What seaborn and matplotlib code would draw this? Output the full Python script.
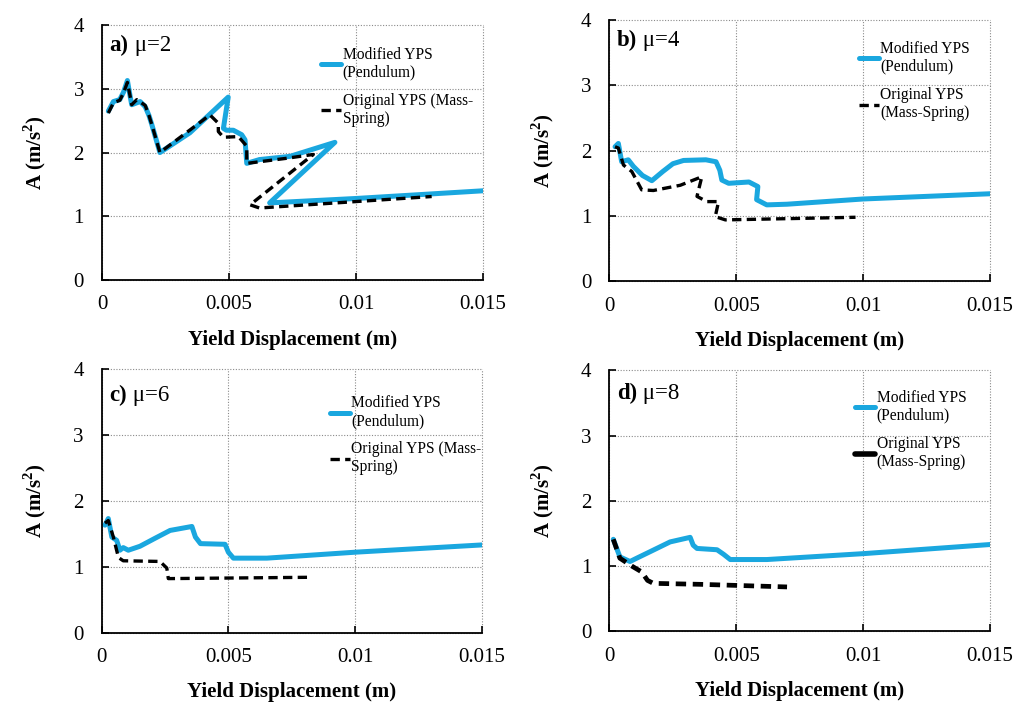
import numpy as np
import pandas as pd
import matplotlib
matplotlib.use("Agg")
import matplotlib.pyplot as plt
import seaborn as sns

# ---------------- data ----------------
panel_titles = ["a)", "b)", "c)", "d)"]
panel_mu = ["\u03bc=2", "\u03bc=4", "\u03bc=6", "\u03bc=8"]
series_names = ["Modified YPS\n(Pendulum)", "Original YPS"]
legend_orig = ["Original YPS (Mass-\nSpring)", "Original YPS\n(Mass-Spring)",
               "Original YPS (Mass-\nSpring)", "Original YPS\n(Mass-Spring)"]
x_ticks = [0, 0.005, 0.01, 0.015]
x_ticklabels = ["0", "0.005", "0.01", "0.015"]
y_ticks = [0, 1, 2, 3, 4]
y_ticklabels = ["0", "1", "2", "3", "4"]

# panel a (mu=2)
a_mod_x = [0.00025, 0.00045, 0.0007, 0.00085, 0.001, 0.0011, 0.00117, 0.0015, 0.0017, 0.00185,
           0.00196, 0.00228, 0.00346, 0.00497, 0.00478, 0.0049, 0.00517, 0.0055, 0.00563, 0.0057,
           0.0062, 0.0074, 0.00917, 0.0066, 0.01003, 0.015]
a_mod_y = [2.65, 2.80, 2.83, 2.95, 3.13, 2.90, 2.75, 2.80, 2.72, 2.58,
           2.44, 2.0, 2.31, 2.87, 2.38, 2.35, 2.35, 2.28, 2.20, 1.83,
           1.89, 1.94, 2.16, 1.21, 1.28, 1.40]
a_orig_x = [0.00025, 0.00045, 0.0007, 0.00085, 0.001, 0.0011, 0.00117, 0.00137, 0.0017, 0.00185,
            0.00196, 0.00228, 0.00425, 0.00458, 0.00458, 0.00478, 0.00537, 0.0057, 0.0057,
            0.00727, 0.00832, 0.00583, 0.0062, 0.01298]
a_orig_y = [2.62, 2.78, 2.82, 2.94, 3.10, 2.90, 2.75, 2.83, 2.74, 2.58,
            2.44, 2.0, 2.59, 2.46, 2.33, 2.24, 2.25, 2.10, 1.83,
            1.91, 1.97, 1.18, 1.13, 1.31]

# panel b (mu=4)
b_mod_x = [0.00022, 0.00035, 0.00048, 0.00074, 0.00094, 0.0013, 0.00167, 0.0021, 0.0025, 0.00292,
           0.0038, 0.0042, 0.00435, 0.00443, 0.0047, 0.0055, 0.00585, 0.0058, 0.0062, 0.007,
           0.01, 0.015]
b_mod_y = [2.06, 2.11, 1.83, 1.86, 1.76, 1.62, 1.54, 1.68, 1.80, 1.85,
           1.86, 1.83, 1.70, 1.55, 1.50, 1.52, 1.45, 1.25, 1.17, 1.18,
           1.26, 1.34]
b_orig_x = [0.00022, 0.00035, 0.00055, 0.00088, 0.00127, 0.00173, 0.00279, 0.00364, 0.00345,
            0.00384, 0.0043, 0.00417, 0.00457, 0.0097]
b_orig_y = [2.06, 2.04, 1.78, 1.68, 1.40, 1.39, 1.47, 1.60, 1.30,
            1.22, 1.22, 0.99, 0.94, 0.98]

# panel c (mu=6)
c_mod_x = [0.00013, 0.00026, 0.0004, 0.00059, 0.00072, 0.00085, 0.00105, 0.00151, 0.0021, 0.0027,
           0.00356, 0.0037, 0.0039, 0.00487, 0.005, 0.0052, 0.00652, 0.01, 0.015]
c_mod_y = [1.63, 1.73, 1.45, 1.40, 1.25, 1.29, 1.25, 1.31, 1.43, 1.55,
           1.61, 1.45, 1.35, 1.34, 1.22, 1.13, 1.13, 1.22, 1.33]
c_orig_x = [0.00013, 0.00026, 0.00046, 0.00066, 0.00085, 0.0023, 0.00257, 0.00263, 0.00823]
c_orig_y = [1.66, 1.70, 1.45, 1.14, 1.09, 1.08, 0.98, 0.82, 0.84]

# panel d (mu=8)
d_mod_x = [0.00015, 0.00041, 0.00081, 0.00107, 0.0016, 0.00239, 0.00318, 0.0033, 0.00345,
           0.00424, 0.0045, 0.00476, 0.00621, 0.01, 0.015]
d_mod_y = [1.41, 1.14, 1.07, 1.12, 1.22, 1.37, 1.44, 1.32, 1.27,
           1.25, 1.18, 1.10, 1.10, 1.19, 1.33]
d_orig_x = [0.00015, 0.00041, 0.00088, 0.00127, 0.0015, 0.00173, 0.00358, 0.007]
d_orig_y = [1.41, 1.12, 1.00, 0.91, 0.78, 0.735, 0.72, 0.68]

# ---------------- styling ----------------
sns.set_theme(style="white")
plt.rcParams["font.family"] = ["Liberation Serif", "DejaVu Serif"]
plt.rcParams["mathtext.fontset"] = "custom"
plt.rcParams["mathtext.rm"] = "Liberation Serif"
plt.rcParams["mathtext.bf"] = "Liberation Serif:bold"
for k in ["text.color", "axes.labelcolor", "xtick.color", "ytick.color"]:
    plt.rcParams[k] = "black"

BLUE = "#1aa7df"
fig = plt.figure(figsize=(10.17, 7.02), dpi=100)

rects = [
    [0.1003, 0.6011, 0.3746, 0.3632],
    [0.5993, 0.5993, 0.3741, 0.3722],
    [0.1000, 0.0987, 0.3736, 0.3760],
    [0.5993, 0.1007, 0.3741, 0.3718],
]
label_pos = [(0.02, 0.92), (0.02, 0.92), (0.02, 0.90), (0.02, 0.91)]
legend_pos = [(0.575, 0.915), (0.655, 0.92), (0.60, 0.90), (0.645, 0.925)]

mods = [(a_mod_x, a_mod_y), (b_mod_x, b_mod_y), (c_mod_x, c_mod_y), (d_mod_x, d_mod_y)]
origs = [(a_orig_x, a_orig_y), (b_orig_x, b_orig_y), (c_orig_x, c_orig_y), (d_orig_x, d_orig_y)]
orig_lw = [2.4, 2.4, 2.4, 3.4]

for i in range(4):
    ax = fig.add_axes(rects[i])
    mx, my = mods[i]
    ox, oy = origs[i]
    dfm = pd.DataFrame({"x": mx, "y": my})
    dfo = pd.DataFrame({"x": ox, "y": oy})
    sns.lineplot(data=dfm, x="x", y="y", ax=ax, sort=False, estimator=None,
                 color=BLUE, lw=3.6, label=series_names[0],
                 solid_joinstyle="round", solid_capstyle="round")
    sns.lineplot(data=dfo, x="x", y="y", ax=ax, sort=False, estimator=None,
                 color="black", lw=orig_lw[i], label=legend_orig[i],
                 dashes=False, linestyle=(0, (2.8, 1.6)) if i < 3 else (0, (2.2, 1.4)),
                 dash_capstyle="butt", dash_joinstyle="round")
    ax.set_xlim(0, 0.015)
    ax.set_ylim(0, 4)
    ax.set_xticks(x_ticks)
    ax.set_xticklabels(x_ticklabels)
    ax.set_yticks(y_ticks)
    ax.set_yticklabels(y_ticklabels)
    ax.grid(True, linestyle=(0, (1, 1.5)), color="#8a8a8a", lw=0.8)
    for gl in ax.get_xgridlines() + ax.get_ygridlines():
        gl.set_clip_on(False)
    for s in ["top", "right"]:
        ax.spines[s].set_visible(False)
    for s in ["left", "bottom"]:
        ax.spines[s].set_color("black")
        ax.spines[s].set_linewidth(1.3)
    ax.tick_params(axis="both", direction="in", length=5, width=1.2, color="black",
                   labelsize=15, labelcolor="black", left=True, bottom=True)
    ax.tick_params(axis="x", pad=11)
    ax.tick_params(axis="y", pad=13)
    ax.set_xlabel("Yield Displacement (m)", fontsize=15, fontweight="bold", labelpad=11)
    ax.set_ylabel("A (m/s$^\\mathbf{2}$)", fontsize=15, fontweight="bold", labelpad=18)
    t1 = ax.text(label_pos[i][0], label_pos[i][1], panel_titles[i], transform=ax.transAxes,
                 fontsize=16.5, fontweight="bold", va="center", ha="left")
    ax.annotate(" " + panel_mu[i], xy=(1, 0.5), xycoords=t1, va="center", ha="left",
                fontsize=16.5)
    leg = ax.legend(loc="upper left", bbox_to_anchor=legend_pos[i], frameon=False,
                    fontsize=11.2, handlelength=1.3, handletextpad=0.1,
                    borderpad=0, borderaxespad=0, labelspacing=0.8)
    leg.get_lines()[0].set_linewidth(3.6)
    if i == 3:
        leg.get_lines()[1].set_linestyle("-")
        leg.get_lines()[1].set_linewidth(4)
    for t in leg.get_texts():
        t.set_linespacing(1.15)

fig.savefig("out.png", dpi=100)
